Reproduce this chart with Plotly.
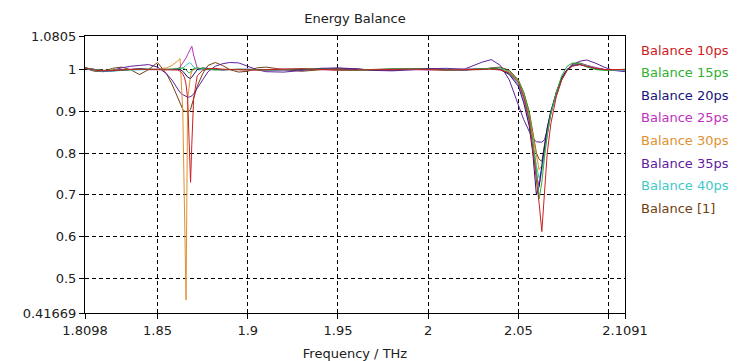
import plotly.graph_objects as go

# Frequency grid (THz), shared by all series
freq = [
    1.8098, 1.815, 1.82, 1.825, 1.83, 1.835, 1.84, 1.845, 1.85,
    1.855, 1.858, 1.861, 1.8625, 1.864, 1.865, 1.8658, 1.8667, 1.8675, 1.8683, 1.869, 1.870,
    1.872, 1.875, 1.878, 1.882, 1.886, 1.89,
    1.895, 1.90, 1.905, 1.91, 1.92, 1.93, 1.94, 1.95, 1.96, 1.97, 1.98, 1.99, 2.00, 2.01, 2.02, 2.03,
    2.035, 2.04, 2.045, 2.05, 2.053, 2.056, 2.058, 2.060, 2.0615, 2.063, 2.0645, 2.066, 2.068,
    2.071, 2.074, 2.077, 2.080, 2.084, 2.088, 2.093, 2.098, 2.103, 2.1091,
]

bal_10ps = [
    1.004, 0.999, 0.997, 0.998, 1.0, 1.001, 1.001, 1.0, 1.0,
    1.0, 1.0, 0.999, 0.996, 0.99, 0.98, 0.965, 0.93, 0.84, 0.73, 0.82, 0.93, 0.985, 0.998, 1.002, 1.003, 1.001, 1.0,
    1.0, 0.999, 0.999, 1.0, 1.001, 1.002, 1.0, 0.999, 0.999, 1.0, 1.001, 1.001, 1.0, 0.999, 1.0, 1.001,
    1.001, 0.999, 0.992, 0.97, 0.935, 0.88, 0.81, 0.745, 0.68, 0.612, 0.70, 0.80, 0.87, 0.935, 0.975, 0.998, 1.008, 1.012, 1.008, 1.003, 1.0, 1.0, 1.0,
]
bal_15ps = [
    1.004, 1.0, 0.998, 0.998, 0.999, 1.0, 1.001, 1.001, 1.0,
    1.0, 1.001, 1.003, 1.004, 1.004, 1.002, 0.998, 0.994, 0.992, 0.994, 0.998, 1.003, 1.004, 1.002, 1.0, 0.999, 1.0, 1.001,
    1.001, 1.0, 0.999, 0.999, 1.0, 1.002, 1.001, 0.999, 0.998, 1.0, 1.002, 1.002, 1.0, 0.999, 1.0, 1.002,
    1.004, 1.004, 0.995, 0.975, 0.945, 0.895, 0.83, 0.76, 0.69, 0.73, 0.79, 0.845, 0.895, 0.945, 0.985, 1.008, 1.016, 1.014, 1.006, 1.0, 0.998, 1.0, 1.001,
]
bal_20ps = [
    1.004, 1.0, 0.997, 0.997, 0.999, 1.001, 1.002, 1.001, 1.0,
    1.0, 1.0, 1.001, 1.0, 0.996, 0.99, 0.986, 0.982, 0.98, 0.979, 0.982, 0.988, 1.0, 1.004, 1.003, 1.0, 0.999, 1.0,
    1.001, 1.001, 1.0, 0.999, 0.999, 1.001, 1.002, 1.0, 0.999, 0.999, 1.001, 1.002, 1.001, 0.999, 0.999, 1.001,
    1.003, 1.0, 0.988, 0.96, 0.92, 0.865, 0.80, 0.70, 0.72, 0.77, 0.82, 0.86, 0.90, 0.945, 0.98, 1.0, 1.01, 1.012, 1.007, 1.002, 1.0, 1.0, 1.0,
]
bal_25ps = [
    1.004, 1.0, 0.998, 0.998, 1.0, 1.001, 1.001, 1.0, 1.0,
    1.0, 1.0, 1.001, 1.006, 1.015, 1.022, 1.028, 1.036, 1.044, 1.05, 1.056, 1.035, 1.004, 1.0, 1.0, 1.001, 1.001, 1.0,
    1.0, 0.999, 0.999, 1.0, 1.001, 1.001, 1.0, 0.999, 1.0, 1.001, 1.001, 1.0, 0.999, 1.0, 1.001, 1.002,
    1.003, 1.001, 0.99, 0.965, 0.93, 0.875, 0.81, 0.75, 0.72, 0.76, 0.80, 0.85, 0.895, 0.94, 0.978, 1.0, 1.01, 1.014, 1.01, 1.004, 1.0, 0.999, 1.0,
]
bal_30ps = [
    1.004, 1.0, 0.998, 0.999, 1.0, 1.001, 1.001, 1.0, 1.001,
    1.004, 1.01, 1.02, 1.026, 0.90, 0.62, 0.448, 0.93, 0.965, 0.985, 0.995, 1.0, 1.002, 1.001, 1.0, 1.0, 1.0, 1.0,
    1.0, 1.0, 0.999, 1.0, 1.001, 1.001, 1.0, 0.999, 1.0, 1.0, 1.001, 1.001, 1.0, 0.999, 1.0, 1.001,
    1.002, 1.0, 0.993, 0.972, 0.94, 0.89, 0.84, 0.79, 0.76, 0.77, 0.81, 0.85, 0.895, 0.94, 0.978, 1.0, 1.01, 1.012, 1.008, 1.003, 1.0, 1.0, 1.0,
]
bal_35ps = [
    1.003, 0.998, 0.996, 0.998, 1.004, 1.008, 1.01, 1.012, 1.006,
    0.99, 0.975, 0.955, 0.945, 0.94, 0.937, 0.935, 0.934, 0.934, 0.935, 0.937, 0.942, 0.955, 0.975, 0.995, 1.008, 1.014, 1.017,
    1.016, 1.008, 1.0, 0.995, 0.994, 0.998, 1.003, 1.004, 1.002, 0.998, 0.997, 0.999, 1.002, 1.003, 1.001, 1.018,
    1.024, 1.01, 0.975, 0.915, 0.88, 0.852, 0.835, 0.827, 0.826, 0.826, 0.832, 0.855, 0.895, 0.945, 0.98, 1.0, 1.012, 1.02, 1.023, 1.015, 1.005, 0.998, 0.995,
]
bal_40ps = [
    1.003, 0.998, 0.996, 0.996, 0.998, 0.999, 1.0, 1.0, 1.0,
    1.0, 1.0, 1.0, 1.001, 1.004, 1.008, 1.011, 1.014, 1.016, 1.016, 1.012, 1.006, 1.0, 0.999, 1.0, 1.0, 1.0, 1.0,
    1.0, 1.0, 1.0, 0.999, 1.0, 1.001, 1.001, 1.0, 0.999, 1.0, 1.001, 1.001, 1.0, 1.0, 1.0, 1.001,
    1.002, 1.0, 0.99, 0.968, 0.935, 0.88, 0.83, 0.77, 0.74, 0.76, 0.80, 0.85, 0.895, 0.94, 0.978, 1.0, 1.01, 1.014, 1.009, 1.003, 1.0, 0.999, 0.998,
]
bal_1 = [
    1.003, 0.996, 0.995, 1.003, 1.006, 1.0, 0.988, 1.0, 1.017,
    0.99, 0.965, 0.935, 0.92, 0.905, 0.90, 0.90, 0.90, 0.90, 0.905, 0.915, 0.93, 0.96, 0.99, 1.01, 1.017, 1.01, 1.0,
    0.994, 0.996, 1.004, 1.006, 1.0, 0.996, 0.999, 1.003, 1.002, 0.998, 0.998, 1.001, 1.002, 1.0, 0.999, 1.0,
    1.004, 1.006, 0.998, 0.975, 0.945, 0.90, 0.85, 0.80, 0.785, 0.78, 0.82, 0.86, 0.90, 0.94, 0.975, 0.998, 1.014, 1.016, 1.01, 1.003, 0.999, 0.998, 1.0,
]

series_names = ["Balance 10ps", "Balance 15ps", "Balance 20ps", "Balance 25ps",
                "Balance 30ps", "Balance 35ps", "Balance 40ps", "Balance [1]"]
series_values = [bal_10ps, bal_15ps, bal_20ps, bal_25ps, bal_30ps, bal_35ps, bal_40ps, bal_1]
series_colors = ["#cc2020", "#30b030", "#14147a", "#c030c0",
                 "#e09030", "#6020a0", "#40c8c8", "#704010"]

x_tickvals = [1.8098, 1.85, 1.9, 1.95, 2.0, 2.05, 2.1, 2.1091]
x_ticktext = ["1.8098", "1.85", "1.9", "1.95", "2", "2.05", "", "2.1091"]
y_tickvals = [0.41669, 0.5, 0.6, 0.7, 0.8, 0.9, 1.0, 1.0805]
y_ticktext = ["0.41669", "0.5", "0.6", "0.7", "0.8", "0.9", "1", "1.0805"]

FONT = "DejaVu Sans"
W, H = 751, 361

fig = go.Figure()
draw_order = [7, 5, 4, 3, 6, 2, 1, 0]
for i in draw_order:
    fig.add_trace(go.Scatter(x=freq, y=series_values[i], mode="lines", name=series_names[i],
                             line=dict(color=series_colors[i], width=1), showlegend=False))

# Legend drawn as coloured text (no symbols), as in the reference
for i, (name, col) in enumerate(zip(series_names, series_colors)):
    fig.add_annotation(xref="paper", yref="paper", x=1.026, y=0.949 - i * 0.0816,
                       text=name, showarrow=False, xanchor="left", yanchor="middle",
                       font=dict(family=FONT, size=13, color=col))

fig.update_layout(
    width=W, height=H,
    margin=dict(l=85, r=126, t=36, b=48),
    paper_bgcolor="white", plot_bgcolor="white",
    title=dict(text="Energy Balance", x=355 / W, xanchor="center", y=1 - 18 / H,
               yanchor="middle", font=dict(family=FONT, size=13, color="#202020")),
    font=dict(family=FONT, size=13, color="#202020"),
)
fig.update_xaxes(range=[1.8098, 2.1091], tickvals=x_tickvals, ticktext=x_ticktext,
                 showline=True, linecolor="black", linewidth=1, mirror=True,
                 ticks="outside", ticklen=5, tickcolor="black", automargin=False,
                 showgrid=True, gridcolor="black", gridwidth=1, griddash="4px,3px",
                 zeroline=False,
                 title=dict(text="Frequency / THz", standoff=12, font=dict(family=FONT, size=13)))
fig.update_yaxes(range=[0.41669, 1.0805], tickvals=y_tickvals, ticktext=y_ticktext,
                 showline=True, linecolor="black", linewidth=1, mirror=True,
                 ticks="outside", ticklen=5, tickcolor="black", automargin=False,
                 showgrid=True, gridcolor="black", gridwidth=1, griddash="4px,3px",
                 zeroline=False)

fig.write_html("out.html", config={"displayModeBar": False},
               post_script="document.body.style.margin='0';")
